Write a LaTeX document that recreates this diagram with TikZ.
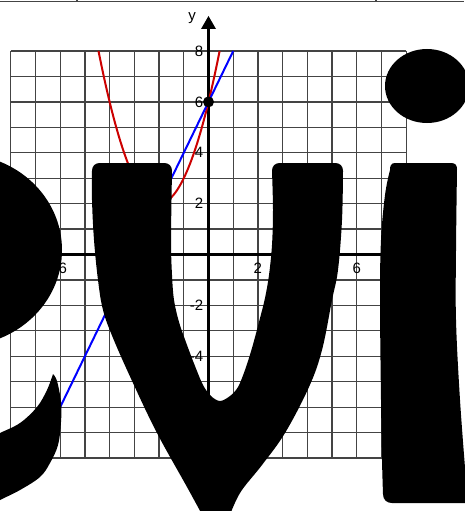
\documentclass[tikz,border=0pt]{standalone}
\usepackage{fontspec}
\setmainfont{Liberation Sans}
\definecolor{curvered}{RGB}{204,0,0}
\definecolor{linegray}{RGB}{68,68,68}
\begin{document}
\begin{tikzpicture}[x=1pt,y=-1pt,
  gridline/.style={draw=linegray, line width=1.3pt},
  axisline/.style={draw=black, line width=3pt},
  lbl/.style={font=\fontsize{15}{18}\selectfont, inner sep=0pt},
  ylbl/.style={lbl, anchor=east},
  xlbl/.style={lbl, anchor=center},
  graphline/.style={line width=2pt},
  glyph/.style={fill=black}]
\useasboundingbox (0,0) rectangle (464,511);
% top border fragments
\draw[linegray, line width=1.3pt] (0,1.5) -- (464,1.5);
\draw[linegray, line width=1.3pt] (77,0) -- (77,2.5);
\draw[linegray, line width=1.3pt] (376,0) -- (376,2.5);
% grid
\foreach \k in {0,...,16} {
  \draw[gridline] ({10.74+24.72*\k},51) -- ({10.74+24.72*\k},458);
  \draw[gridline] (10.74,{51+25.44*\k}) -- (406.26,{51+25.44*\k});
}
% axes
\coordinate (xl) at (0,254.5);
\coordinate (xr) at (440,254.5);
\coordinate (yb) at (208.5,495);
\coordinate (yt) at (208.5,27);
\draw[axisline] (xl) -- (xr);
\draw[axisline] (yb) -- (yt);
\fill (208.5,16) -- (216,29) -- (201,29) -- cycle;
\node[lbl, anchor=base] (ylab) at (192,21) {y};
% labels
\node[ylbl] (l8) at (203.5,51) {8};
\node[ylbl] (l6) at (203.5,101.9) {6};
\node[ylbl] (l4) at (203.5,152.7) {4};
\node[ylbl] (l2) at (203.5,203.6) {2};
\node[ylbl] (lm2) at (203.5,305.4) {-2};
\node[ylbl] (lm4) at (203.5,356.3) {-4};
\node[xlbl] (xm6) at (60.2,268) {-6};
\node[xlbl] (x2) at (257.9,268) {2};
\node[xlbl] (x6) at (356.8,268) {6};
% curves
\draw[curvered, graphline] plot[domain=-4.449:0.449, samples=80, smooth]
  ({208.5+24.72*\x},{254.5-25.44*((\x+2)*(\x+2)+2)});
\coordinate (b1) at (35.46,458);
\coordinate (b2) at (233.22,51);
\draw[blue, graphline] (b1) -- (b2);
\node[circle, fill=black, inner sep=0pt, minimum size=11pt] (pt) at (208.5,101.9) {};
% big letters "evi"
% e bowl
\fill[glyph] (-40,250) ellipse (102pt and 96pt);
% e tail
\fill[glyph] plot[smooth,tension=0.6] coordinates {(-5,436) (0,433) (20,423) (37,407) (47,390) (53,374)}
  -- plot[smooth,tension=0.6] coordinates {(53,374) (57,381) (61,402) (61,422) (58,445) (50,463) (40,477) (20,490) (0,500) (-5,503)} -- cycle;
% v
\fill[glyph] (205,520) -- plot[smooth,tension=0.6] coordinates {(205,520) (187,487) (157,433) (133,383) (113,338) (103,310) (98,280) (94,240) (92,200) (92,171)}
  .. controls (92,166) and (95,163) .. (100,163) -- (164,163) .. controls (169,163) and (172,166) .. (172,171)
  -- plot[smooth,tension=0.55] coordinates {(172,171) (171,240) (172,275) (174,300) (179,322) (187,345) (195,366) (203,385) (211,396) (220,401) (230,396) (238,387) (245,370) (252,348) (259,322) (265,298) (269,275) (272,245) (273,210) (272,171)}
  .. controls (272,166) and (275,163) .. (280,163) -- (335,163) .. controls (340,163) and (343,166) .. (343,171)
  -- plot[smooth,tension=0.6] coordinates {(343,171) (342,220) (338,270) (332,300) (322,350) (309,387) (285,433) (262,465) (240,493) (228,520)}
  -- cycle;
% i dot
\fill[glyph] (427,86) ellipse (42pt and 37pt);
% i stem
\fill[glyph] (395,163) -- (451,163) .. controls (455,163) and (457,165) .. (457,169)
  -- plot[smooth,tension=0.6] coordinates {(457,169) (456,250) (456,320) (460,400) (466,480)}
  -- (470,503) -- (392,503) .. controls (387,503) and (383,500) .. (383,494)
  -- plot[smooth,tension=0.6] coordinates {(383,494) (382,460) (381,400) (380,300) (381,240) (385,195) (390,170)}
  .. controls (390,166) and (391,163) .. (395,163) -- cycle;
\end{tikzpicture}
\end{document}
